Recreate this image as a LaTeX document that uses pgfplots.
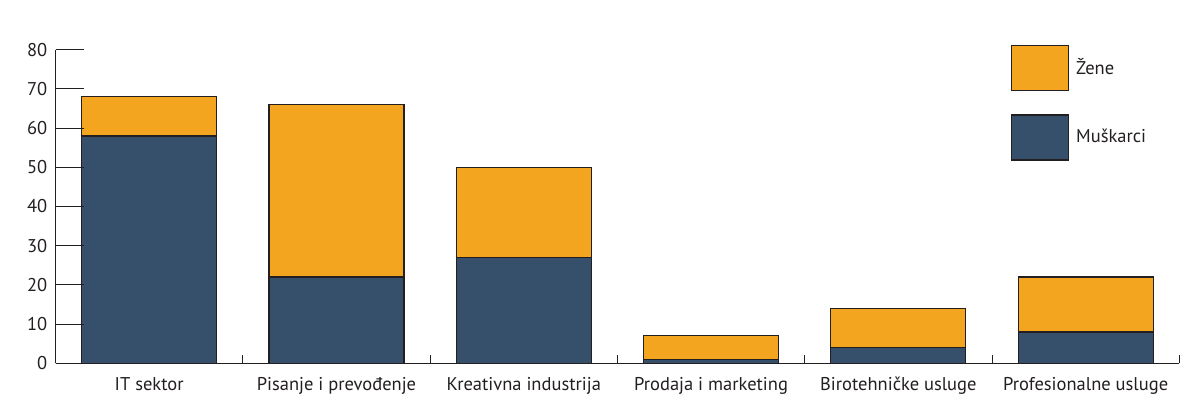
\documentclass[border=0pt]{standalone}
\usepackage{pgfplots}
\pgfplotsset{compat=1.18}
\usepackage{fontspec}
\setmainfont{PT Sans}
\definecolor{orangeZ}{RGB}{243,165,31}
\definecolor{navyM}{RGB}{54,80,107}
\definecolor{edgeC}{RGB}{35,31,32}
\begin{document}
\fontsize{18.5}{21}\selectfont
\begin{tikzpicture}
\begin{axis}[
  anchor=origin, at={(0,0)},
  x=187.3pt, y=3.92pt,
  xmin=0, xmax=6, ymin=0, ymax=80,
  ybar stacked, bar width=135pt,
  axis x line=bottom, axis y line=left,
  axis line style={-, line width=1pt, color=edgeC},
  /pgf/number format/assume math mode=true,
  tick label style={font=\fontsize{18.5}{21}\selectfont, text=edgeC},
  ytick={0,10,...,80},
  ytick style={draw=none},
  yticklabel style={anchor=east, inner sep=0pt, xshift=-8pt},
  xtick={0,1,...,6},
  xticklabels={},
  tick align=inside,
  major tick length=8pt,
  xtick style={line width=1pt, color=edgeC},
  extra x ticks={0.5,1.5,2.5,3.5,4.5,5.5},
  extra x tick labels={IT sektor, Pisanje i prevođenje, Kreativna industrija, Prodaja i marketing, Birotehničke usluge, Profesionalne usluge},
  extra x tick style={major tick length=0pt, xticklabel style={anchor=base, inner sep=0pt, yshift=-27pt}},
  reverse legend,
  legend cell align=left,
  legend style={draw=none, fill=none, at={(0.850,1.015)}, anchor=north west,
    inner sep=0pt, row sep=23pt, column sep=7pt,
    nodes={inner sep=0pt, font=\fontsize{18.5}{21}\selectfont, text=edgeC}},
  legend image code/.code={\draw[#1, draw=edgeC, line width=1.2pt] (0pt,-22.5pt) rectangle (57pt,22.5pt);},
]
\addplot[fill=navyM, draw=edgeC, line width=1.2pt] coordinates {(0.5,58) (1.5,22) (2.5,27) (3.5,1) (4.5,4) (5.5,8)};
\addlegendentry{Muškarci}
\addplot[fill=orangeZ, draw=edgeC, line width=1.2pt] coordinates {(0.5,10) (1.5,44) (2.5,23) (3.5,6) (4.5,10) (5.5,14)};
\addlegendentry{Žene}
\end{axis}
\foreach \v in {1,...,8} \draw[line width=1pt, edgeC] (0,\v*39.2pt) -- ++(28pt,0);
\path (-55.5pt,-56.7pt) rectangle (1147.5pt,363.3pt);
\end{tikzpicture}
\end{document}
